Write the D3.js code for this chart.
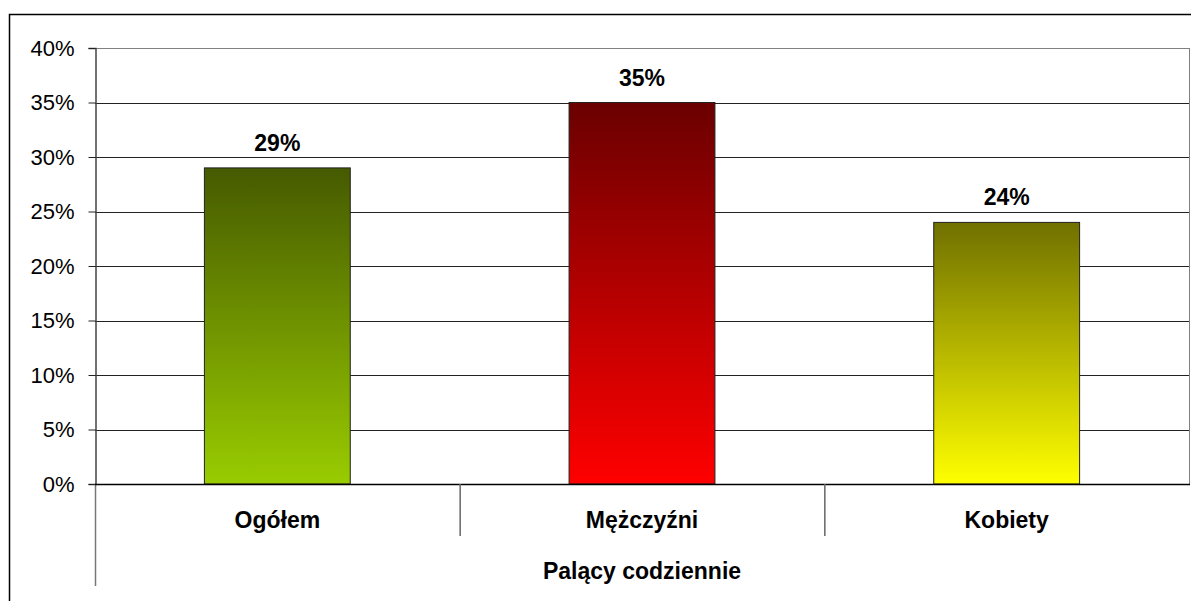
<!DOCTYPE html>
<html>
<head>
<meta charset="utf-8">
<script src="https://cdn.jsdelivr.net/npm/d3@7"></script>
<style>
	body { margin: 0; background: #fff; }
	svg { display: block; font-family: "Liberation Sans", Arial, sans-serif; }
</style>
</head>
<body>
<svg id="chart" width="1191" height="601"></svg>
<script>
// data
const categories = ["Ogółem", "Mężczyźni", "Kobiety"];
const values = [29, 35, 24];
const axisTitle = "Palący codziennie";
const yTicks = [0, 5, 10, 15, 20, 25, 30, 35, 40];
const gradTop = ["#465a00", "#6a0000", "#707000"];
const gradBottom = ["#99cc00", "#ff0000", "#ffff00"];

const svg = d3.select("#chart");

// outer chart frame (clipped on right and bottom in the original)
svg.append("rect")
	.attr("x", 9.5).attr("y", 14.5)
	.attr("width", 1300).attr("height", 700)
	.attr("fill", "none").attr("stroke", "#000").attr("stroke-width", 1.5);

const plotLeft = 95, plotRight = 1189, plotTop = 48, plotBottom = 484;

const x = d3.scaleBand()
	.domain(categories)
	.range([plotLeft, plotRight])
	.paddingInner(0.6)
	.paddingOuter(0.3);

const y = d3.scaleLinear()
	.domain([0, 40])
	.range([plotBottom, plotTop]);

// gradients
const defs = svg.append("defs");
categories.forEach((c, i) => {
	const g = defs.append("linearGradient")
		.attr("id", "grad" + i)
		.attr("x1", 0).attr("y1", 0).attr("x2", 0).attr("y2", 1);
	g.append("stop").attr("offset", "0%").attr("stop-color", gradTop[i]);
	g.append("stop").attr("offset", "100%").attr("stop-color", gradBottom[i]);
});

// plot area right border
svg.append("line")
	.attr("x1", plotRight + 0.5).attr("x2", plotRight + 0.5)
	.attr("y1", plotTop).attr("y2", plotBottom)
	.attr("stroke", "#808080");

// gridlines
svg.append("g")
	.selectAll("line")
	.data(yTicks.filter(t => t > 0))
	.enter()
	.append("line")
	.attr("x1", plotLeft).attr("x2", plotRight)
	.attr("y1", d => Math.round(y(d)) + 0.5)
	.attr("y2", d => Math.round(y(d)) + 0.5)
	.attr("stroke", d => d === 40 ? "#808080" : "#222");

// y axis
const yAxis = svg.append("g")
	.attr("transform", `translate(${plotLeft + 0.5},0)`)
	.call(d3.axisLeft(y).tickValues(yTicks).tickSize(7).tickPadding(14).tickFormat(d => d + "%"));
yAxis.select(".domain").attr("stroke", "#444").attr("stroke-width", 1.5);
yAxis.selectAll(".tick line").attr("stroke", "#222");
yAxis.selectAll(".tick text")
	.attr("font-size", 22)
	.attr("font-family", "Liberation Sans, Arial, sans-serif")
	.attr("fill", "#000");

// extended left axis below baseline
svg.append("line")
	.attr("x1", plotLeft + 0.5).attr("x2", plotLeft + 0.5)
	.attr("y1", plotBottom).attr("y2", 586)
	.attr("stroke", "#777").attr("stroke-width", 1.5);

// bars
svg.append("g")
	.selectAll("rect")
	.data(values)
	.enter()
	.append("rect")
	.attr("x", (d, i) => x(categories[i]))
	.attr("y", d => y(d))
	.attr("width", x.bandwidth())
	.attr("height", d => y(0) - y(d))
	.attr("fill", (d, i) => `url(#grad${i})`)
	.attr("stroke", "#222")
	.attr("stroke-width", 1);

// value labels
svg.append("g")
	.selectAll("text")
	.data(values)
	.enter()
	.append("text")
	.attr("x", (d, i) => x(categories[i]) + x.bandwidth() / 2)
	.attr("y", d => y(d) - 17)
	.attr("text-anchor", "middle")
	.attr("font-size", 23)
	.attr("font-weight", "bold")
	.text(d => d + "%");

// x baseline
svg.append("line")
	.attr("x1", plotLeft).attr("x2", plotRight + 1)
	.attr("y1", plotBottom + 0.5).attr("y2", plotBottom + 0.5)
	.attr("stroke", "#000").attr("stroke-width", 1.5);

// category separators
const step = x.step();
svg.append("g")
	.selectAll("line")
	.data(categories.slice(1))
	.enter()
	.append("line")
	.attr("x1", d => x(d) - step * 0.3 + 0.5)
	.attr("x2", d => x(d) - step * 0.3 + 0.5)
	.attr("y1", plotBottom).attr("y2", 536)
	.attr("stroke", "#666").attr("stroke-width", 1.5);

// category labels
svg.append("g")
	.selectAll("text")
	.data(categories)
	.enter()
	.append("text")
	.attr("x", d => x(d) + x.bandwidth() / 2)
	.attr("y", 528)
	.attr("text-anchor", "middle")
	.attr("font-size", 23)
	.attr("font-weight", "bold")
	.text(d => d);

// axis title
svg.append("text")
	.attr("x", (plotLeft + plotRight) / 2)
	.attr("y", 579)
	.attr("text-anchor", "middle")
	.attr("font-size", 23)
	.attr("font-weight", "bold")
	.text(axisTitle);
</script>
</body>
</html>
